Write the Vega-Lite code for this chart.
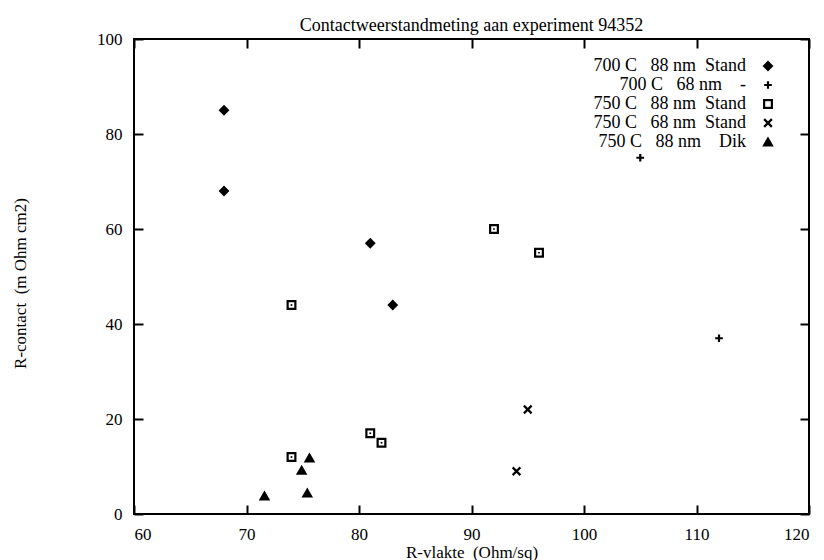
{
  "$schema": "https://vega.github.io/schema/vega-lite/v6.json",
  "width": 675,
  "height": 475,
  "autosize": {"type": "none"},
  "padding": {"left": 134, "top": 39, "right": 15, "bottom": 46},
  "background": "white",
  "title": {
    "text": "Contactweerstandmeting aan experiment 94352",
    "font": "Liberation Serif",
    "fontSize": 18,
    "fontWeight": "normal",
    "color": "black",
    "anchor": "middle",
    "offset": -5
  },
  "config": {
    "view": {"stroke": "black", "strokeWidth": 2},
    "axis": {
      "domain": false,
      "grid": false,
      "ticks": true,
      "tickColor": "black",
      "tickWidth": 2,
      "tickSize": -9,
      "labelFont": "Liberation Serif",
      "labelFontSize": 17,
      "labelColor": "black",
      "titleFont": "Liberation Serif",
      "titleFontSize": 17,
      "titleFontWeight": "normal",
      "titleColor": "black"
    }
  },
  "data": {
    "values": [
      {"x": 68, "y": 85, "series": "700 C\u00a0\u00a0\u00a088 nm\u00a0\u00a0Stand"},
      {"x": 68, "y": 68, "series": "700 C\u00a0\u00a0\u00a088 nm\u00a0\u00a0Stand"},
      {"x": 81, "y": 57, "series": "700 C\u00a0\u00a0\u00a088 nm\u00a0\u00a0Stand"},
      {"x": 83, "y": 44, "series": "700 C\u00a0\u00a0\u00a088 nm\u00a0\u00a0Stand"},
      {"x": 105, "y": 75, "series": "700 C\u00a0\u00a0\u00a068 nm\u00a0\u00a0\u00a0\u00a0-\u00a0\u00a0"},
      {"x": 112, "y": 37, "series": "700 C\u00a0\u00a0\u00a068 nm\u00a0\u00a0\u00a0\u00a0-\u00a0\u00a0"},
      {"x": 74, "y": 44, "series": "750 C\u00a0\u00a0\u00a088 nm\u00a0\u00a0Stand"},
      {"x": 92, "y": 60, "series": "750 C\u00a0\u00a0\u00a088 nm\u00a0\u00a0Stand"},
      {"x": 96, "y": 55, "series": "750 C\u00a0\u00a0\u00a088 nm\u00a0\u00a0Stand"},
      {"x": 81, "y": 17, "series": "750 C\u00a0\u00a0\u00a088 nm\u00a0\u00a0Stand"},
      {"x": 82, "y": 15, "series": "750 C\u00a0\u00a0\u00a088 nm\u00a0\u00a0Stand"},
      {"x": 74, "y": 12, "series": "750 C\u00a0\u00a0\u00a088 nm\u00a0\u00a0Stand"},
      {"x": 95, "y": 22, "series": "750 C\u00a0\u00a0\u00a068 nm\u00a0\u00a0Stand"},
      {"x": 94, "y": 9, "series": "750 C\u00a0\u00a0\u00a068 nm\u00a0\u00a0Stand"},
      {"x": 71.6, "y": 3.8, "series": "750 C\u00a0\u00a0\u00a088 nm\u00a0\u00a0\u00a0\u00a0Dik\u00a0"},
      {"x": 74.9, "y": 9.2, "series": "750 C\u00a0\u00a0\u00a088 nm\u00a0\u00a0\u00a0\u00a0Dik\u00a0"},
      {"x": 75.6, "y": 11.8, "series": "750 C\u00a0\u00a0\u00a088 nm\u00a0\u00a0\u00a0\u00a0Dik\u00a0"},
      {"x": 75.4, "y": 4.4, "series": "750 C\u00a0\u00a0\u00a088 nm\u00a0\u00a0\u00a0\u00a0Dik\u00a0"}
    ]
  },
  "layer": [
    {
      "mark": {"type": "point", "strokeWidth": 2.2, "opacity": 1, "size": 60},
      "encoding": {
        "x": {
          "field": "x", "type": "quantitative",
          "scale": {"domain": [60, 120], "nice": false, "zero": false},
          "axis": {"title": "R-vlakte\u00a0\u00a0(Ohm/sq)", "values": [60, 70, 80, 90, 100, 110, 120], "labelPadding": 21, "titlePadding": 2}
        },
        "y": {
          "field": "y", "type": "quantitative",
          "scale": {"domain": [0, 100], "nice": false},
          "axis": {"title": "R-contact\u00a0\u00a0(m Ohm cm2)", "values": [0, 20, 40, 60, 80, 100], "labelPadding": 21, "titleX": -109, "titleY": 244, "titleBaseline": "alphabetic", "titleAngle": -90}
        },
        "shape": {
          "field": "series", "type": "nominal",
          "scale": {
            "domain": ["700 C\u00a0\u00a0\u00a088 nm\u00a0\u00a0Stand", "700 C\u00a0\u00a0\u00a068 nm\u00a0\u00a0\u00a0\u00a0-\u00a0\u00a0", "750 C\u00a0\u00a0\u00a088 nm\u00a0\u00a0Stand", "750 C\u00a0\u00a0\u00a068 nm\u00a0\u00a0Stand", "750 C\u00a0\u00a0\u00a088 nm\u00a0\u00a0\u00a0\u00a0Dik\u00a0"],
            "range": ["diamond", "M-1,0L1,0M0,-1L0,1", "square", "M-1,-1L1,1M1,-1L-1,1", "triangle-up"]
          },
          "legend": {
            "title": null,
            "orient": "none",
            "legendX": 625,
            "legendY": 18,
            "padding": 0,
            "labelAlign": "right",
            "labelOffset": -31,
            "labelFont": "Liberation Serif",
            "labelFontSize": 18,
            "labelColor": "black",
            "labelLimit": 400,
            "rowPadding": 1,
            "symbolStrokeWidth": 2.2,
            "symbolSize": 60
          }
        },
        "fill": {
          "field": "series", "type": "nominal",
          "scale": {
            "domain": ["700 C\u00a0\u00a0\u00a088 nm\u00a0\u00a0Stand", "700 C\u00a0\u00a0\u00a068 nm\u00a0\u00a0\u00a0\u00a0-\u00a0\u00a0", "750 C\u00a0\u00a0\u00a088 nm\u00a0\u00a0Stand", "750 C\u00a0\u00a0\u00a068 nm\u00a0\u00a0Stand", "750 C\u00a0\u00a0\u00a088 nm\u00a0\u00a0\u00a0\u00a0Dik\u00a0"],
            "range": ["black", "black", "white", "black", "black"]
          }
        },
        "stroke": {
          "field": "series", "type": "nominal",
          "scale": {
            "domain": ["700 C\u00a0\u00a0\u00a088 nm\u00a0\u00a0Stand", "700 C\u00a0\u00a0\u00a068 nm\u00a0\u00a0\u00a0\u00a0-\u00a0\u00a0", "750 C\u00a0\u00a0\u00a088 nm\u00a0\u00a0Stand", "750 C\u00a0\u00a0\u00a068 nm\u00a0\u00a0Stand", "750 C\u00a0\u00a0\u00a088 nm\u00a0\u00a0\u00a0\u00a0Dik\u00a0"],
            "range": ["black", "black", "black", "black", "black"]
          }
        }
      }
    },
    {
      "transform": [{"filter": "indexof(datum.series, 'Stand') > 0 && indexof(datum.series, '750 C\u00a0\u00a0\u00a088') == 0"}],
      "mark": {"type": "point", "shape": "square", "filled": true, "color": "black", "size": 3, "opacity": 1},
      "encoding": {
        "x": {
          "field": "x", "type": "quantitative",
          "axis": {"orient": "top", "labels": false, "title": null, "values": [60, 70, 80, 90, 100, 110, 120]}
        },
        "y": {
          "field": "y", "type": "quantitative",
          "axis": {"orient": "right", "labels": false, "title": null, "values": [0, 20, 40, 60, 80, 100]}
        }
      }
    }
  ],
  "resolve": {"axis": {"x": "independent", "y": "independent"}}
}
